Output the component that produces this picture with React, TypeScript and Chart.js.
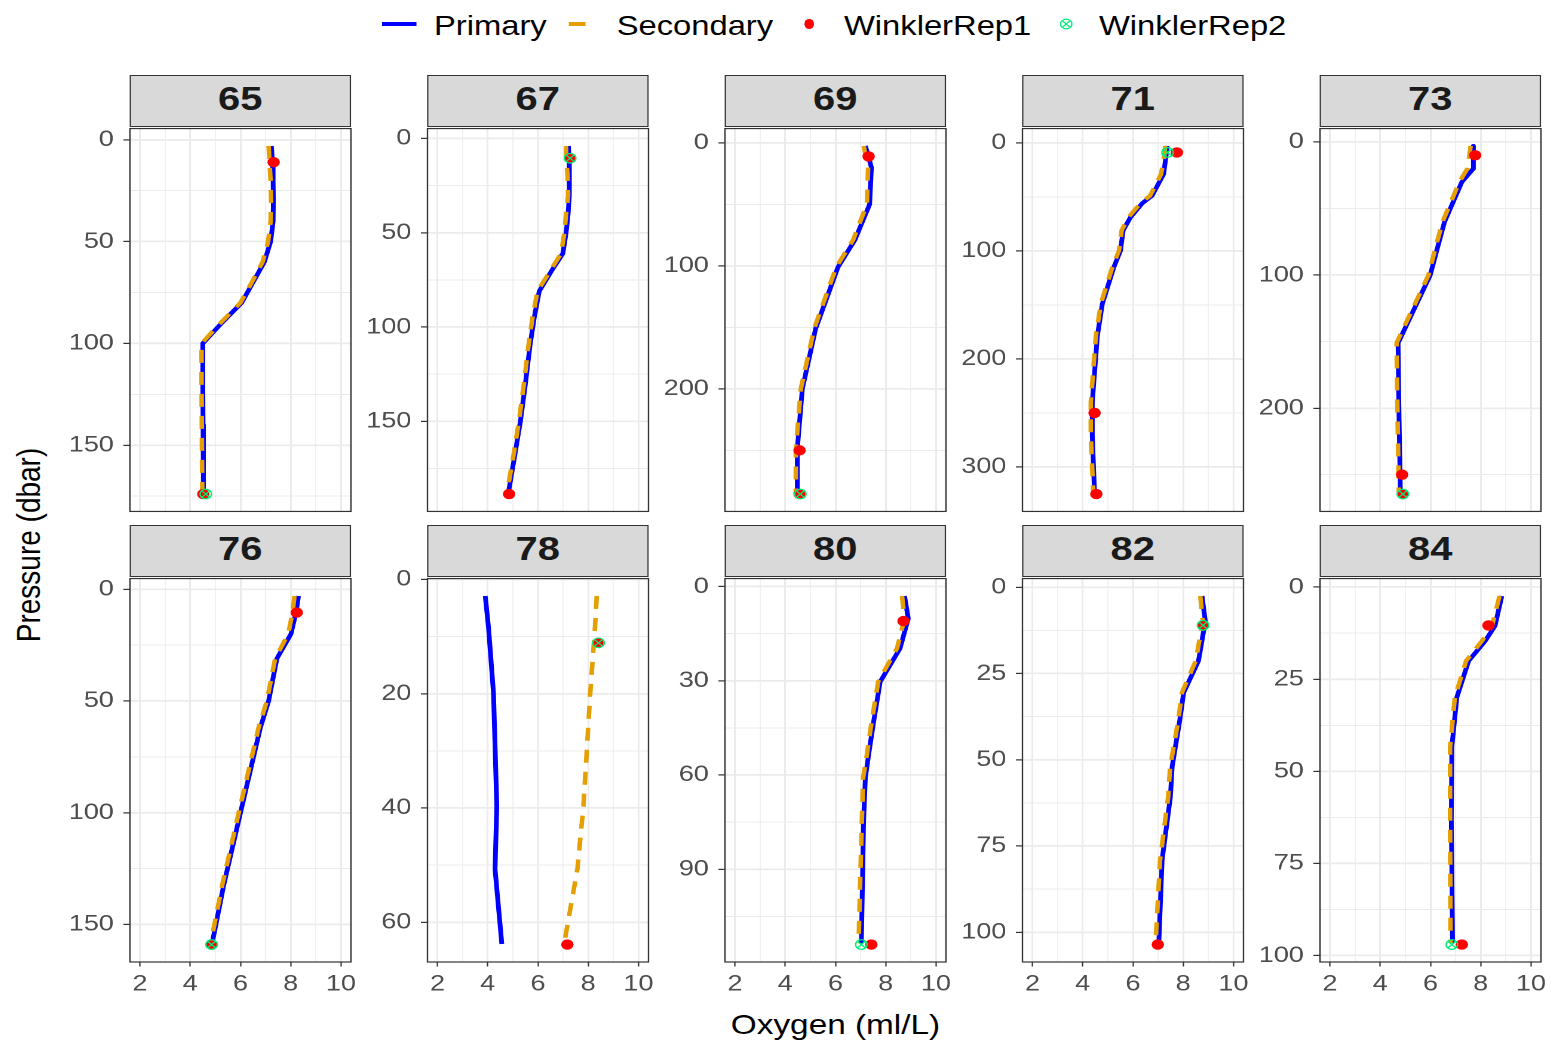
import React, { useEffect, useRef } from 'react';
import { Chart, registerables } from 'chart.js';

Chart.register(...registerables);

// ---------------- DATA ----------------
const stations = ['65', '67', '69', '71', '73', '76', '78', '80', '82', '84'];

const depth65 = [3, 10, 20, 30, 40, 50, 60, 70, 80, 90, 100, 120, 140, 160, 174];
const primary65 = [7.23, 7.27, 7.3, 7.31, 7.3, 7.2, 6.95, 6.5, 6.05, 5.25, 4.5, 4.5, 4.51, 4.52, 4.53];
const secondary65 = [7.12, 7.15, 7.2, 7.22, 7.2, 7.1, 6.88, 6.45, 6.0, 5.2, 4.45, 4.45, 4.46, 4.47, 4.48];
const rep1Depth65 = [11, 174];
const rep1Oxy65 = [7.32, 4.52];
const rep2Depth65 = [174];
const rep2Oxy65 = [4.62];

const depth67 = [4, 10, 20, 30, 40, 50, 61, 70, 81, 95, 110, 130, 150, 170, 188];
const primary67 = [7.21, 7.24, 7.25, 7.25, 7.2, 7.12, 6.99, 6.55, 6.05, 5.85, 5.68, 5.5, 5.3, 5.05, 4.82];
const secondary67 = [7.12, 7.12, 7.18, 7.2, 7.12, 7.05, 6.92, 6.5, 5.98, 5.78, 5.62, 5.44, 5.24, 5.0, 4.76];
const rep1Depth67 = [10.5, 188.5];
const rep1Oxy67 = [7.28, 4.85];
const rep2Depth67 = [10.5];
const rep2Oxy67 = [7.28];

const depth69 = [2.5, 10, 20, 50, 79, 101, 151, 200, 249, 285];
const primary69 = [7.19, 7.3, 7.43, 7.36, 6.77, 6.1, 5.21, 4.68, 4.48, 4.48];
const secondary69 = [7.12, 7.2, 7.3, 7.25, 6.7, 6.03, 5.15, 4.62, 4.42, 4.42];
const rep1Depth69 = [11, 250, 285.5];
const rep1Oxy69 = [7.32, 4.57, 4.57];
const rep2Depth69 = [285.5];
const rep2Oxy69 = [4.6];

const depth71 = [3, 10, 29, 49, 56, 69, 81, 100, 115, 149, 179, 240, 271, 324];
const primary71 = [7.36, 7.33, 7.22, 6.76, 6.37, 5.9, 5.61, 5.5, 5.24, 4.78, 4.58, 4.38, 4.38, 4.47];
const secondary71 = [7.28, 7.26, 7.12, 6.68, 6.3, 5.82, 5.55, 5.44, 5.18, 4.72, 4.52, 4.32, 4.32, 4.42];
const rep1Depth71 = [9, 250, 325];
const rep1Oxy71 = [7.75, 4.47, 4.54];
const rep2Depth71 = [9];
const rep2Oxy71 = [7.38];

const depth73 = [3, 10, 20, 30, 60, 78, 100, 151, 196, 263];
const primary73 = [7.71, 7.71, 7.71, 7.25, 6.56, 6.3, 5.99, 4.71, 4.74, 4.8];
const secondary73 = [7.6, 7.55, 7.47, 7.15, 6.48, 6.22, 5.92, 4.65, 4.68, 4.74];
const rep1Depth73 = [10, 250, 264.5];
const rep1Oxy73 = [7.78, 4.87, 4.9];
const rep2Depth73 = [264.5];
const rep2Oxy73 = [4.9];

const depth76 = [3, 10, 20, 31, 50, 62, 100, 132, 158];
const primary76 = [8.31, 8.22, 8.01, 7.45, 7.12, 6.79, 6.0, 5.34, 4.88];
const secondary76 = [8.15, 8.08, 7.9, 7.38, 7.05, 6.72, 5.93, 5.28, 4.82];
const rep1Depth76 = [10.4, 159];
const rep1Oxy76 = [8.24, 4.85];
const rep2Depth76 = [159];
const rep2Oxy76 = [4.85];

const depth78 = [2.9, 8.4, 20, 39.7, 50.7, 63.8];
const primary78 = [3.9, 4.03, 4.23, 4.36, 4.29, 4.56];
const secondary78 = [8.34, 8.27, 8.08, 7.81, 7.57, 7.04];
const rep1Depth78 = [11.1, 63.9];
const rep1Oxy78 = [8.41, 7.17];
const rep2Depth78 = [11.1];
const rep2Oxy78 = [8.41];

const depth80 = [3, 10.2, 19.7, 30.3, 43, 53.5, 60.9, 74.6, 113.6];
const primary80 = [8.75, 8.9, 8.57, 7.78, 7.52, 7.32, 7.19, 7.12, 7.03];
const secondary80 = [8.65, 8.75, 8.45, 7.7, 7.44, 7.25, 7.1, 7.05, 6.92];
const rep1Depth80 = [11, 114];
const rep1Oxy80 = [8.71, 7.43];
const rep2Depth80 = [114];
const rep2Oxy80 = [7.03];

const depth82 = [2.5, 9.8, 21.3, 30.5, 38.7, 52, 60.8, 79, 103];
const primary82 = [8.75, 8.88, 8.61, 8.02, 7.86, 7.56, 7.49, 7.16, 7.03];
const secondary82 = [8.68, 8.78, 8.5, 7.95, 7.8, 7.48, 7.4, 7.08, 6.9];
const rep1Depth82 = [11, 103.6];
const rep1Oxy82 = [8.79, 6.99];
const rep2Depth82 = [11];
const rep2Oxy82 = [8.79];

const depth84 = [2.4, 10.5, 14.6, 20, 29.9, 43.4, 63.2, 96.6];
const primary84 = [8.84, 8.57, 8.18, 7.52, 7.05, 6.85, 6.83, 6.88];
const secondary84 = [8.75, 8.45, 8.05, 7.42, 6.97, 6.78, 6.78, 6.8];
const rep1Depth84 = [10.4, 97];
const rep1Oxy84 = [8.31, 7.25];
const rep2Depth84 = [97];
const rep2Oxy84 = [6.85];

const yMajorStep = [50, 50, 100, 100, 100, 50, 20, 30, 25, 25];
const xTickLabels = [2, 4, 6, 8, 10];
const xLimits = [1.6, 10.4];

const legendLabels = ['Primary', 'Secondary', 'WinklerRep1', 'WinklerRep2'];
const xTitle = 'Oxygen (ml/L)';
const yTitle = 'Pressure (dbar)';

const profiles = [
  { depth: depth65, primary: primary65, secondary: secondary65, r1d: rep1Depth65, r1o: rep1Oxy65, r2d: rep2Depth65, r2o: rep2Oxy65 },
  { depth: depth67, primary: primary67, secondary: secondary67, r1d: rep1Depth67, r1o: rep1Oxy67, r2d: rep2Depth67, r2o: rep2Oxy67 },
  { depth: depth69, primary: primary69, secondary: secondary69, r1d: rep1Depth69, r1o: rep1Oxy69, r2d: rep2Depth69, r2o: rep2Oxy69 },
  { depth: depth71, primary: primary71, secondary: secondary71, r1d: rep1Depth71, r1o: rep1Oxy71, r2d: rep2Depth71, r2o: rep2Oxy71 },
  { depth: depth73, primary: primary73, secondary: secondary73, r1d: rep1Depth73, r1o: rep1Oxy73, r2d: rep2Depth73, r2o: rep2Oxy73 },
  { depth: depth76, primary: primary76, secondary: secondary76, r1d: rep1Depth76, r1o: rep1Oxy76, r2d: rep2Depth76, r2o: rep2Oxy76 },
  { depth: depth78, primary: primary78, secondary: secondary78, r1d: rep1Depth78, r1o: rep1Oxy78, r2d: rep2Depth78, r2o: rep2Oxy78 },
  { depth: depth80, primary: primary80, secondary: secondary80, r1d: rep1Depth80, r1o: rep1Oxy80, r2d: rep2Depth80, r2o: rep2Oxy80 },
  { depth: depth82, primary: primary82, secondary: secondary82, r1d: rep1Depth82, r1o: rep1Oxy82, r2d: rep2Depth82, r2o: rep2Oxy82 },
  { depth: depth84, primary: primary84, secondary: secondary84, r1d: rep1Depth84, r1o: rep1Oxy84, r2d: rep2Depth84, r2o: rep2Oxy84 },
];

// ---------------- LAYOUT ----------------
const SX = 1.19; // horizontal stretch of the whole figure
const DESIGN_W = 1552 / SX;
const FONT = "'Liberation Sans', Arial, Helvetica, sans-serif";
const COL_LEFT = 109.24;
const COL_STEP = 250;
const PW = 185.3;
const ROW_TOP = [126.7, 576.7];
const PH = [386, 385.6];
const STRIP_H = [51.7, 52];
const YW = 60;
const PADT = 20;
const PADR = 22;
const PADB = 20;
const XH = 44;

const BLUE = '#0000FF';
const ORANGE = '#E69F00';
const RED = '#FF0000';
const GREEN = '#00EE76';
const GRID = '#EBEBEB';

const isMult = (v: number, m: number) => Math.abs(v / m - Math.round(v / m)) < 1e-6;
const pts = (xs: number[], ys: number[]) => xs.map((x, k) => ({ x, y: ys[k] }));

const borderPlugin = {
  id: 'panelBorder',
  afterDatasetsDraw(chart: any) {
    const { ctx, chartArea } = chart;
    ctx.save();
    ctx.strokeStyle = '#333333';
    ctx.lineWidth = 1.2;
    ctx.strokeRect(chartArea.left, chartArea.top, chartArea.right - chartArea.left, chartArea.bottom - chartArea.top);
    ctx.restore();
  },
};

function Panel({ i }: { i: number }) {
  const ref = useRef<HTMLCanvasElement>(null);
  const row = Math.floor(i / 5);
  const col = i % 5;
  const pLeft = COL_LEFT + col * COL_STEP;
  const left = pLeft - YW;
  const top = ROW_TOP[row] - PADT;
  const w = YW + PW + PADR;
  const h = PADT + PH[row] + (row === 0 ? PADB : XH);

  useEffect(() => {
    const p = profiles[i];
    const major = yMajorStep[i];
    const allD = [...p.depth, ...p.r1d, ...p.r2d];
    const dMin = Math.min(...allD);
    const dMax = Math.max(...allD);
    const pad = (dMax - dMin) * 0.05;
    const showX = row === 1;
    const chart = new Chart(ref.current as HTMLCanvasElement, {
      type: 'scatter',
      data: {
        datasets: [
          {
            label: legendLabels[3] + 'x',
            data: pts(p.r2o, p.r2d),
            pointStyle: 'crossRot',
            pointRadius: 4.8,
            pointBorderColor: GREEN,
            pointBackgroundColor: 'rgba(0,0,0,0)',
            pointBorderWidth: 1.2,
            showLine: false,
            order: 0,
          },
          {
            label: legendLabels[3],
            data: pts(p.r2o, p.r2d),
            pointStyle: 'circle',
            pointRadius: 4.8,
            pointBorderColor: GREEN,
            pointBackgroundColor: 'rgba(0,0,0,0)',
            pointBorderWidth: 1.2,
            showLine: false,
            order: 1,
          },
          {
            label: legendLabels[2],
            data: pts(p.r1o, p.r1d),
            pointStyle: 'circle',
            pointRadius: 5.2,
            pointBackgroundColor: RED,
            pointBorderColor: RED,
            pointBorderWidth: 0,
            showLine: false,
            order: 2,
          },
          {
            label: legendLabels[1],
            data: pts(p.secondary, p.depth),
            showLine: true,
            borderColor: ORANGE,
            borderWidth: 3.8,
            borderDash: [13, 9],
            borderCapStyle: 'butt',
            borderJoinStyle: 'round',
            pointRadius: 0,
            pointHoverRadius: 0,
            tension: 0,
            order: 3,
          },
          {
            label: legendLabels[0],
            data: pts(p.primary, p.depth),
            showLine: true,
            borderColor: BLUE,
            borderWidth: 4,
            borderCapStyle: 'butt',
            borderJoinStyle: 'round',
            pointRadius: 0,
            pointHoverRadius: 0,
            tension: 0,
            order: 4,
          },
        ],
      } as any,
      options: {
        animation: false,
        responsive: false,
        devicePixelRatio: 2,
        events: [],
        layout: { padding: { top: PADT, right: PADR, bottom: row === 0 ? PADB : 0, left: 0 } },
        plugins: { legend: { display: false }, tooltip: { enabled: false } },
        scales: {
          x: {
            type: 'linear',
            position: 'bottom',
            min: xLimits[0],
            max: xLimits[1],
            afterFit: (s: any) => {
              s.height = showX ? XH : 0;
            },
            border: { display: false },
            grid: {
              drawTicks: showX,
              tickLength: 4.5,
              tickWidth: 1.1,
              tickColor: (c: any) => (xTickLabels.includes(c.tick?.value) ? '#333333' : 'rgba(0,0,0,0)'),
              color: GRID,
              lineWidth: (c: any) => (xTickLabels.includes(c.tick?.value) ? 1.5 : 0.75),
            },
            ticks: {
              display: showX,
              stepSize: 1,
              includeBounds: false,
              autoSkip: false,
              maxRotation: 0,
              padding: 4,
              color: '#4D4D4D',
              font: { family: FONT, size: 22.6 },
              callback: (v: any) => (xTickLabels.includes(Number(v)) ? String(v) : ''),
            },
          },
          y: {
            type: 'linear',
            reverse: true,
            min: dMin - pad,
            max: dMax + pad,
            afterFit: (s: any) => {
              s.width = YW;
            },
            border: { display: false },
            grid: {
              drawTicks: true,
              tickLength: 5.5,
              tickWidth: 1.2,
              tickColor: (c: any) => (isMult(c.tick?.value ?? 0.123, major) ? '#333333' : 'rgba(0,0,0,0)'),
              color: GRID,
              lineWidth: (c: any) => (isMult(c.tick?.value ?? 0.123, major) ? 1.8 : 0.9),
            },
            ticks: {
              stepSize: major / 2,
              includeBounds: false,
              autoSkip: false,
              padding: 8,
              color: '#4D4D4D',
              font: { family: FONT, size: 22.6 },
              callback: (v: any) => (isMult(Number(v), major) ? String(v) : ''),
            },
          },
        },
      } as any,
      plugins: [borderPlugin],
    });
    return () => chart.destroy();
  }, []);

  return (
    <>
      <div
        style={{
          position: 'absolute',
          left: pLeft,
          top: ROW_TOP[row] - STRIP_H[row],
          width: PW,
          height: STRIP_H[row],
          boxSizing: 'border-box',
          border: '1.1px solid #333333',
          background: '#D9D9D9',
          display: 'flex',
          alignItems: 'center',
          justifyContent: 'center',
          paddingBottom: 4,
          fontFamily: FONT,
          fontWeight: 'bold',
          fontSize: 33.5,
          color: '#1A1A1A',
          lineHeight: 1,
        }}
      >
        {stations[i]}
      </div>
      <canvas
        ref={ref}
        width={w}
        height={h}
        style={{ position: 'absolute', left, top, width: w, height: h }}
      />
    </>
  );
}

function Legend() {
  const txt = (x: number, s: string) => (
    <div
      style={{
        position: 'absolute',
        left: x,
        top: 11.6,
        fontFamily: FONT,
        fontSize: 27.5,
        lineHeight: 1,
        color: '#000000',
        whiteSpace: 'nowrap',
      }}
    >
      {s}
    </div>
  );
  return (
    <>
      <div style={{ position: 'absolute', left: 321.3, top: 22, width: 28.3, height: 4, background: BLUE }} />
      {txt(364.7, legendLabels[0])}
      <div style={{ position: 'absolute', left: 478, top: 22, width: 14.3, height: 4, background: ORANGE }} />
      {txt(518.2, legendLabels[1])}
      <div
        style={{
          position: 'absolute',
          left: 679.8 - 4.3,
          top: 24 - 5,
          width: 8.6,
          height: 10,
          borderRadius: '50%',
          background: RED,
        }}
      />
      {txt(709.2, legendLabels[2])}
      <svg style={{ position: 'absolute', left: 896 - 6, top: 24 - 6 }} width={12} height={12} viewBox="0 0 12 12">
        <circle cx={6} cy={6} r={4.8} fill="none" stroke={GREEN} strokeWidth={1.2} />
        <line x1={2.6} y1={2.6} x2={9.4} y2={9.4} stroke={GREEN} strokeWidth={1.2} />
        <line x1={9.4} y1={2.6} x2={2.6} y2={9.4} stroke={GREEN} strokeWidth={1.2} />
      </svg>
      {txt(923.5, legendLabels[3])}
    </>
  );
}

export default function App() {
  return (
    <div
      style={{
        position: 'fixed',
        left: 0,
        top: 0,
        width: DESIGN_W,
        height: 1044,
        background: '#FFFFFF',
        transform: `scaleX(${SX})`,
        transformOrigin: '0 0',
        overflow: 'visible',
      }}
    >
      <Legend />
      {stations.map((s, i) => (
        <Panel key={s} i={i} />
      ))}
      <div
        style={{
          position: 'absolute',
          left: 702.1 - 200,
          top: 1011.3,
          width: 400,
          textAlign: 'center',
          fontFamily: FONT,
          fontSize: 28,
          lineHeight: 1,
          color: '#000000',
        }}
      >
        {xTitle}
      </div>
      <div
        style={{
          position: 'absolute',
          left: 25.2 - 150,
          top: 545 - 14,
          width: 300,
          height: 28,
          textAlign: 'center',
          fontFamily: FONT,
          fontSize: 28,
          lineHeight: '28px',
          color: '#000000',
          transform: 'rotate(-90deg)',
          transformOrigin: '50% 50%',
          whiteSpace: 'nowrap',
        }}
      >
        {yTitle}
      </div>
    </div>
  );
}
